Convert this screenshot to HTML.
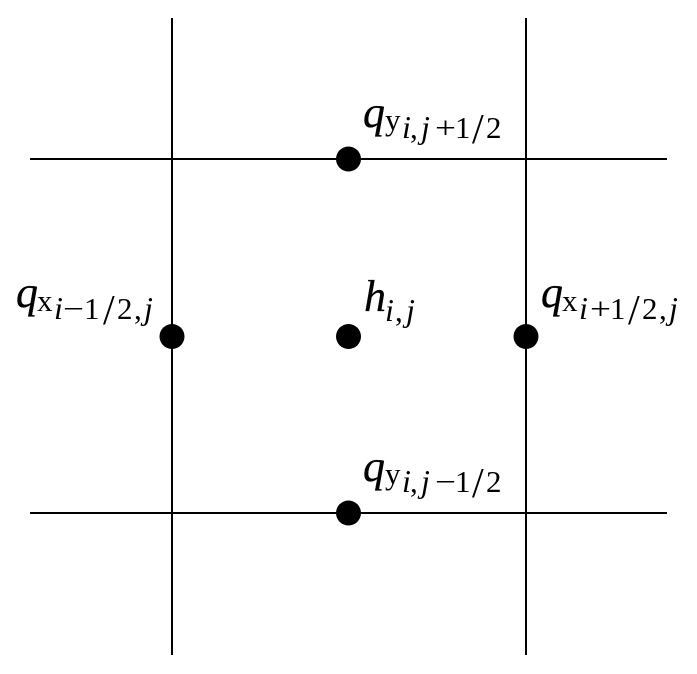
<!DOCTYPE html>
<html>
<head>
<meta charset="utf-8">
<style>
html,body{margin:0;padding:0;background:#fff;width:697px;height:674px;overflow:hidden}
svg{display:block}
text{font-family:"Liberation Serif",serif;fill:#000}
.m{font-size:44px;font-style:italic;stroke:#000;stroke-width:.3px}
.u{font-size:31px}
.s{font-size:32px;font-style:italic}
.d{font-size:31px}
.f{font-size:42px}
</style>
</head>
<body>
<svg width="697" height="674" viewBox="0 0 697 674" xmlns="http://www.w3.org/2000/svg">
<g stroke="#000" stroke-width="2" fill="none">
<line x1="172" y1="18" x2="172" y2="655"/>
<line x1="526" y1="18" x2="526" y2="655"/>
<line x1="30" y1="159" x2="667" y2="159"/>
<line x1="30" y1="513" x2="667" y2="513"/>
</g>
<g fill="#000">
<circle cx="348.5" cy="159" r="12.5"/>
<circle cx="172" cy="336.5" r="12.5"/>
<circle cx="348.5" cy="336.5" r="12.5"/>
<circle cx="526" cy="336.5" r="12.5"/>
<circle cx="348.5" cy="513" r="12.5"/>
</g>

<!-- top label -->
<text class="m" x="363" y="127">q</text>
<text class="u" x="385" y="130">y</text>
<text class="s" x="402" y="138">i</text>
<text class="d" x="410" y="138">,</text>
<text class="s" x="421" y="138">j</text>
<text class="d" x="435" y="138" textLength="21" lengthAdjust="spacingAndGlyphs">+</text>
<text class="d" x="455" y="138">1</text>
<text class="f" x="472" y="143">/</text>
<text class="d" x="486" y="138">2</text>

<!-- bottom label -->
<text class="m" x="363" y="481">q</text>
<text class="u" x="385" y="484">y</text>
<text class="s" x="402" y="492">i</text>
<text class="d" x="410" y="492">,</text>
<text class="s" x="421" y="492">j</text>
<text class="d" x="435" y="492" textLength="21" lengthAdjust="spacingAndGlyphs">−</text>
<text class="d" x="455" y="492">1</text>
<text class="f" x="472" y="497">/</text>
<text class="d" x="486" y="492">2</text>

<!-- left label -->
<text class="m" x="16" y="307">q</text>
<text class="u" x="37" y="311">x</text>
<text class="s" x="54" y="319">i</text>
<text class="d" x="63" y="319" textLength="21" lengthAdjust="spacingAndGlyphs">−</text>
<text class="d" x="84" y="319">1</text>
<text class="f" x="103" y="324">/</text>
<text class="d" x="117" y="319">2</text>
<text class="d" x="134" y="319">,</text>
<text class="s" x="144" y="319">j</text>

<!-- right label -->
<text class="m" x="541" y="307">q</text>
<text class="u" x="562" y="311">x</text>
<text class="s" x="579" y="319">i</text>
<text class="d" x="590" y="319" textLength="21" lengthAdjust="spacingAndGlyphs">+</text>
<text class="d" x="610" y="319">1</text>
<text class="f" x="628" y="324">/</text>
<text class="d" x="642" y="319">2</text>
<text class="d" x="659" y="319">,</text>
<text class="s" x="669" y="319">j</text>

<!-- center label -->
<text class="m" x="364" y="311">h</text>
<text class="s" x="385" y="321">i</text>
<text class="d" x="395" y="321">,</text>
<text class="s" x="406" y="321">j</text>
</svg>
</body>
</html>
